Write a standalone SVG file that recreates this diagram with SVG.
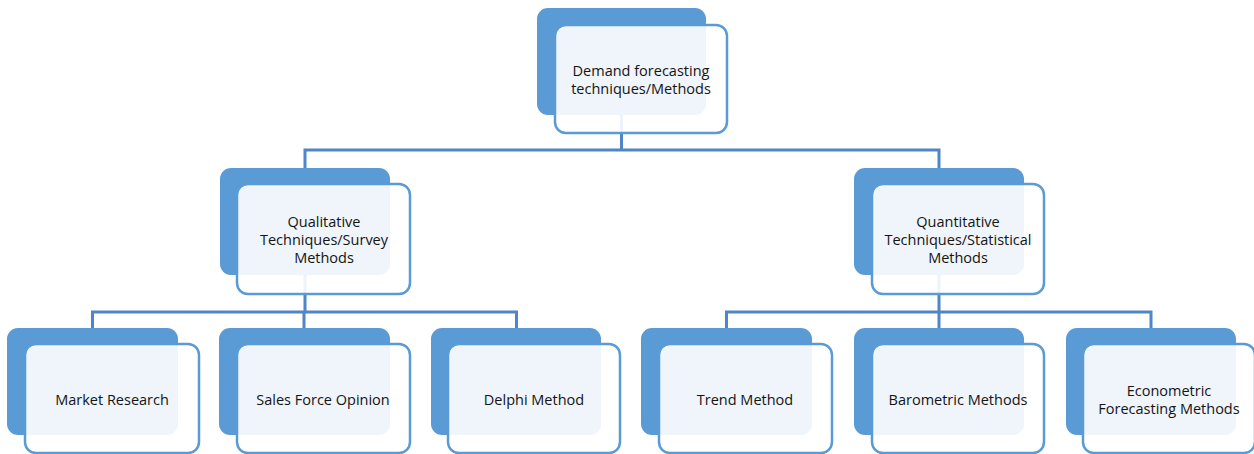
<svg xmlns="http://www.w3.org/2000/svg" width="1254" height="454" viewBox="0 0 1254 454">
  <style>
    .back { fill: #5B9BD5; }
    .front { fill: #FFFFFF; fill-opacity: 0.9; stroke: #5B9BD5; stroke-width: 2.5; }
    .label { font-family: "Open Sans", "Liberation Sans", sans-serif; font-size: 14.5px; fill: #141414; text-anchor: middle; }
    .conn { fill: none; stroke: #4F86C6; stroke-width: 3; }
  </style>
  <rect width="1254" height="454" fill="#FFFFFF"/>

  <!-- connectors (drawn first so the translucent cards sit over them) -->
  <g id="connectors">
    <path class="conn" d="M621.5 115 V150 M305 168 V150 H939 V168"/>
    <path class="conn" d="M305 275 V312 M92.5 328 V312 H516.5 V328 M304 312 V328"/>
    <path class="conn" d="M939 275 V312 M726.5 328 V312 H1151 V328 M939 312 V328"/>
  </g>

  <g id="root">
    <rect class="back" x="537" y="8" width="169" height="107" rx="11"/>
    <rect class="front" x="555" y="25" width="172" height="108" rx="11"/>
    <text class="label" x="641" y="76">Demand forecasting</text>
    <text class="label" x="641" y="94">techniques/Methods</text>
  </g>

  <g id="qualitative">
    <rect class="back" x="220" y="168" width="170" height="107" rx="11"/>
    <rect class="front" x="237" y="184" width="173" height="110" rx="11"/>
    <text class="label" x="324" y="227">Qualitative</text>
    <text class="label" x="324" y="245">Techniques/Survey</text>
    <text class="label" x="324" y="263">Methods</text>
  </g>

  <g id="quantitative">
    <rect class="back" x="854" y="168" width="170" height="107" rx="11"/>
    <rect class="front" x="872" y="184" width="172" height="110" rx="11"/>
    <text class="label" x="958" y="227">Quantitative</text>
    <text class="label" x="958" y="245">Techniques/Statistical</text>
    <text class="label" x="958" y="263">Methods</text>
  </g>

  <g id="market-research">
    <rect class="back" x="7" y="328" width="171" height="107" rx="11"/>
    <rect class="front" x="25" y="344" width="174" height="109" rx="11"/>
    <text class="label" x="112" y="405">Market Research</text>
  </g>

  <g id="sales-force-opinion">
    <rect class="back" x="219" y="328" width="171" height="107" rx="11"/>
    <rect class="front" x="237" y="344" width="173" height="109" rx="11"/>
    <text class="label" x="323" y="405">Sales Force Opinion</text>
  </g>

  <g id="delphi-method">
    <rect class="back" x="431" y="328" width="170" height="107" rx="11"/>
    <rect class="front" x="448" y="344" width="172" height="109" rx="11"/>
    <text class="label" x="534" y="405">Delphi Method</text>
  </g>

  <g id="trend-method">
    <rect class="back" x="641" y="328" width="171" height="107" rx="11"/>
    <rect class="front" x="659" y="344" width="173" height="109" rx="11"/>
    <text class="label" x="745" y="405">Trend Method</text>
  </g>

  <g id="barometric-methods">
    <rect class="back" x="854" y="328" width="170" height="107" rx="11"/>
    <rect class="front" x="872" y="344" width="172" height="109" rx="11"/>
    <text class="label" x="958" y="405">Barometric Methods</text>
  </g>

  <g id="econometric-methods">
    <rect class="back" x="1066" y="328" width="170" height="107" rx="11"/>
    <rect class="front" x="1083" y="344" width="172" height="109" rx="11"/>
    <text class="label" x="1169" y="396">Econometric</text>
    <text class="label" x="1169" y="414">Forecasting Methods</text>
  </g>
</svg>
